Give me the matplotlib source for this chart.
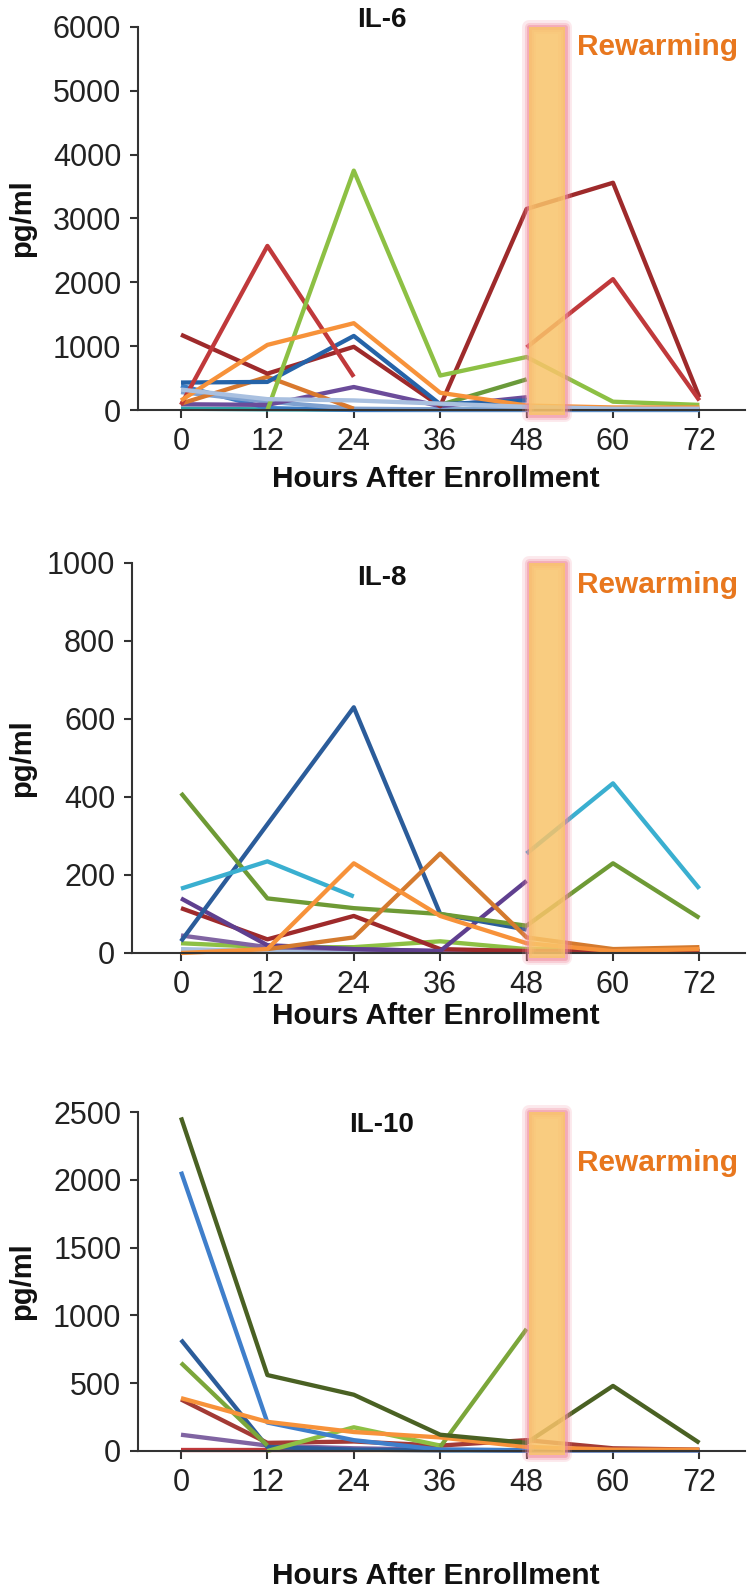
import numpy as np
import matplotlib
matplotlib.use('Agg')
from matplotlib import pyplot as plt
from matplotlib.patches import Rectangle

plt.rcParams['font.family'] = ['Liberation Sans', 'DejaVu Sans']

nan = np.nan
hours = [0, 12, 24, 36, 48, 60, 72]

# IL-6 (pg/ml)
il6_darkred = [1180, 570, 990, 60, 3150, 3560, 200]
il6_red = [80, 2570, 520, nan, 980, 2050, 150]
il6_green = [nan, 0, 3750, 540, 830, 130, 80]
il6_orange = [150, 1020, 1360, 270, 70, 40, 40]
il6_blue = [430, 440, 1160, 90, 150, nan, nan]
il6_darkorange = [100, 520, 20, nan, nan, nan, nan]
il6_purple = [90, 80, 360, 60, 200, nan, nan]
il6_olive = [nan, nan, nan, 80, 480, nan, nan]
il6_lightblue = [320, 170, 150, 100, 50, 20, 20]
il6_steel = [280, 130, 20, 10, 10, 10, 10]
il6_blue2 = [380, 30, 0, 0, 0, 0, 0]
il6_teal = [20, 10, 5, 5, 5, 5, 5]

# IL-8 (pg/ml)
il8_blue = [30, 330, 630, 100, 60, nan, nan]
il8_olive = [410, 140, 115, 100, 70, 230, 90]
il8_aqua = [165, 235, 145, nan, 255, 435, 165]
il8_orange = [0, 10, 230, 95, 25, 5, 10]
il8_darkorange = [nan, 10, 40, 255, 40, 10, 15]
il8_darkred = [115, 35, 95, 10, 5, 5, 5]
il8_purple = [140, 20, 10, 5, 185, nan, nan]
il8_violet = [45, 15, 10, 5, 5, 5, 5]
il8_green = [25, 15, 15, 30, 10, 10, 5]
il8_lightblue = [10, 5, 5, 5, 5, 5, 5]

# IL-10 (pg/ml)
il10_darkolive = [2460, 560, 415, 120, 60, 480, 60]
il10_blue = [2060, 210, 80, 10, 5, 5, 5]
il10_darkblue = [820, 30, 10, 5, 5, nan, nan]
il10_green = [650, 40, nan, nan, nan, nan, nan]
il10_lightgreen = [nan, 0, 175, 40, nan, nan, nan]
il10_green2 = [nan, nan, nan, 30, 900, nan, nan]
il10_darkred = [380, 60, 70, 40, 80, 20, 10]
il10_orange = [390, 215, 140, 100, 30, 10, 10]
il10_purple = [120, 40, 20, 10, 5, 5, 5]
il10_red = [10, 10, 10, nan, nan, nan, nan]
il10_darkorange = [nan, nan, 5, 5, nan, nan, nan]
il10_aqua = [nan, nan, nan, 5, 5, 5, 5]

panels = [
    ('IL-6', [0, 6000], range(0, 6001, 1000),
     [(il6_teal, '#2FA3A8'), (il6_blue2, '#3C7DC4'), (il6_steel, '#7FA1D0'),
      (il6_purple, '#6B4C9A'), (il6_darkorange, '#D9782D'), (il6_olive, '#6A9A3A'),
      (il6_darkred, '#9E2A2B'), (il6_blue, '#2563A8'), (il6_red, '#C0393B'),
      (il6_green, '#8DC044'), (il6_orange, '#F7923A'), (il6_lightblue, '#A9C0E0')]),
    ('IL-8', [0, 1000], range(0, 1001, 200),
     [(il8_lightblue, '#A9C0E0'), (il8_green, '#8DC044'), (il8_violet, '#8064A2'),
      (il8_darkred, '#9E2A2B'), (il8_purple, '#5F3F8F'), (il8_blue, '#2B5C9A'),
      (il8_olive, '#6E9A35'), (il8_aqua, '#3AAFD0'), (il8_darkorange, '#D47A2E'),
      (il8_orange, '#F7923A')]),
    ('IL-10', [0, 2500], range(0, 2501, 500),
     [(il10_aqua, '#3AAFD0'), (il10_darkorange, '#D47A2E'), (il10_red, '#C0393B'),
      (il10_purple, '#8064A2'), (il10_darkred, '#A33A35'), (il10_darkblue, '#2B5C9A'),
      (il10_green, '#7BA63A'), (il10_lightgreen, '#8DC044'), (il10_green2, '#7BA63A'),
      (il10_blue, '#3F7FCB'), (il10_orange, '#F7923A'), (il10_darkolive, '#4A6123')]),
]

# pixel layout of the original figure (753 x 1590)
W, H = 753.0, 1590.0
boxes = [(138, 27, 410), (132, 563, 953), (138, 1112, 1451)]   # left, top, bottom (y=0)
title_y = [20, 578, 1125]
rew_y = [47, 585, 1163]
xlab_y = [479, 1016, 1576]

fig = plt.figure(figsize=(W / 100, H / 100), dpi=100, facecolor='w')

for (name, ylim, yticks, series), (left, top, bot), ty, ry, xy in zip(
        panels, boxes, title_y, rew_y, xlab_y):
    ax = fig.add_axes([left / W, 1 - bot / H, (745 - left) / W, (bot - top) / H])
    for vals, col in series:
        ax.plot(hours, vals, color=col, lw=3.1, solid_capstyle='butt', clip_on=False, zorder=2)

    # rewarming bar with pink glow round it
    tr = ax.get_xaxis_transform()
    for lw, a in [(10, 0.18), (6.5, 0.28), (3.5, 0.5)]:
        ax.add_patch(Rectangle((48.4, -0.012), 4.9, 1.012, transform=tr, fill=False,
                               ec='#F08A9C', lw=lw, alpha=a, joinstyle='round',
                               clip_on=False, zorder=3))
    ax.add_patch(Rectangle((48.4, -0.012), 4.9, 1.012, transform=tr, fc='#F9C46A',
                           ec='none', alpha=0.85, clip_on=False, zorder=4))

    ax.set_xlim(-(181 - left) / 7.2, (745 - 181) / 7.2)
    ax.set_ylim(ylim)
    ax.set_xticks(hours)
    ax.set_yticks(list(yticks))
    ax.tick_params(direction='out', length=6, width=1.5, color='#333333',
                   labelsize=22, pad=6, labelcolor='#222222')
    for s in ['top', 'right']:
        ax.spines[s].set_visible(False)
    for s in ['left', 'bottom']:
        ax.spines[s].set_linewidth(1.5)
        ax.spines[s].set_color('#333333')

    fig.text(382 / W, 1 - ty / H, name, fontsize=20, fontweight='bold',
             ha='center', va='center', color='#111111')
    fig.text(577 / W, 1 - ry / H, 'Rewarming', fontsize=21.5, fontweight='bold',
             ha='left', va='center', color='#E8771E')
    fig.text(436 / W, 1 - xy / H, 'Hours After Enrollment', fontsize=21.5,
             fontweight='bold', ha='center', va='center', color='#111111')
    fig.text(22 / W, 1 - (top + bot) / 2 / H, 'pg/ml', fontsize=21, fontweight='bold',
             rotation=90, ha='center', va='center', color='#111111')

plt.savefig('out.png', dpi=100, facecolor='w')
